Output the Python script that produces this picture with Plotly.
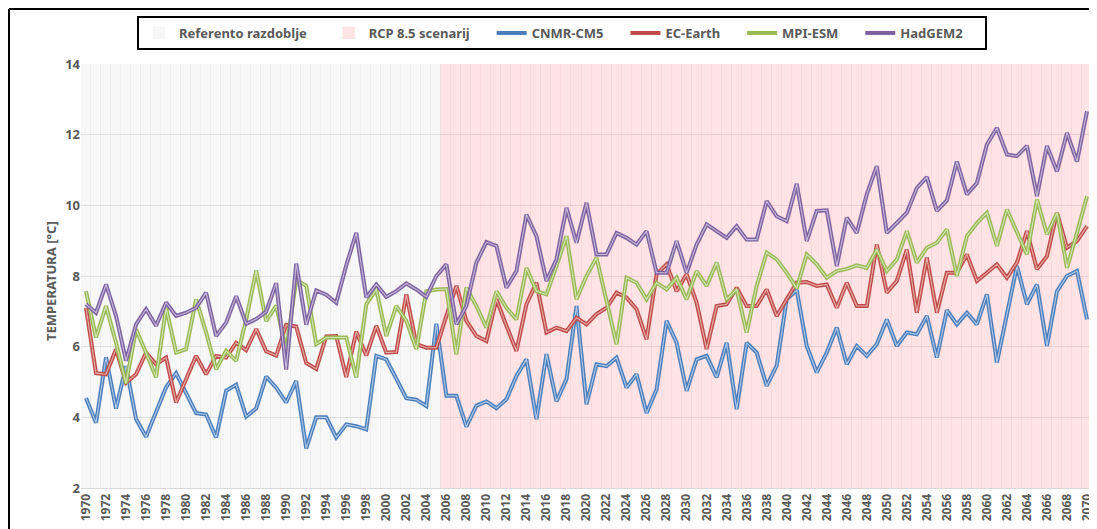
import plotly.graph_objects as go

years = list(range(1970, 2071))

cnmr_cm5 = [4.55, 3.85, 5.7, 4.25, 5.45, 3.95, 3.45, 4.15, 4.85, 5.25,
            4.7, 4.12, 4.08, 3.43, 4.75, 4.92, 4.02, 4.25, 5.15, 4.84,
            4.42, 5.03, 3.12, 4.0, 4.0, 3.43, 3.8, 3.75, 3.66, 5.74,
            5.64, 5.08, 4.54, 4.5, 4.32, 6.65, 4.61, 4.61, 3.74, 4.33,
            4.45, 4.26, 4.51, 5.17, 5.64, 3.95, 5.79, 4.45, 5.08, 7.15,
            4.37, 5.5, 5.45, 5.69, 4.84, 5.22, 4.12, 4.79, 6.73, 6.11,
            4.75, 5.64, 5.74, 5.13, 6.11, 4.23, 6.11, 5.83, 4.89, 5.46,
            7.34, 7.6, 6.02, 5.27, 5.83, 6.54, 5.5, 6.02, 5.74, 6.07,
            6.77, 6.02, 6.4, 6.35, 6.87, 5.69, 7.03, 6.63, 6.96, 6.63,
            7.48, 5.55, 6.96, 8.28, 7.2, 7.76, 6.02, 7.57, 8.0, 8.14,
            6.77]

ec_earth = [7.1, 5.25, 5.22, 5.93, 4.98, 5.22, 5.83, 5.5, 5.69, 4.42,
            5.08, 5.74, 5.22, 5.74, 5.69, 6.11, 5.9, 6.5, 5.87, 5.75,
            6.62, 6.57, 5.54, 5.37, 6.29, 6.3, 5.14, 6.43, 5.75, 6.59,
            5.83, 5.85, 7.48, 6.07, 5.97, 5.97, 6.87, 7.72, 6.73, 6.3,
            6.16, 7.34, 6.59, 5.88, 7.2, 7.81, 6.4, 6.54, 6.44, 6.82,
            6.63, 6.92, 7.1, 7.53, 7.39, 7.06, 6.21, 8.05, 8.33, 7.57,
            8.05, 7.25, 5.93, 7.15, 7.2, 7.67, 7.15, 7.15, 7.62, 6.87,
            7.34, 7.81, 7.83, 7.72, 7.76, 7.1, 7.81, 7.15, 7.15, 8.89,
            7.53, 7.86, 8.75, 6.96, 8.52, 6.96, 8.09, 8.09, 8.61, 7.86,
            8.09, 8.33, 7.95, 8.38, 9.27, 8.19, 8.56, 9.79, 8.8, 8.99,
            9.41]

mpi_esm = [7.57, 6.26, 7.15, 6.11, 4.96, 6.49, 5.83, 5.13, 7.1, 5.83,
           5.93, 7.34, 6.4, 5.36, 5.88, 5.6, 6.77, 8.15, 6.72, 7.16,
           5.9, 7.9, 7.72, 6.07, 6.26, 6.26, 6.26, 5.13, 7.2, 7.62,
           6.3, 7.15, 6.73, 5.93, 7.57, 7.62, 7.63, 5.78, 7.67, 7.15,
           6.54, 7.57, 7.1, 6.77, 8.23, 7.57, 7.48, 8.28, 9.13, 7.34,
           8.0, 8.52, 7.34, 6.07, 7.95, 7.81, 7.34, 7.81, 7.62, 7.95,
           7.34, 8.14, 7.72, 8.38, 7.34, 7.62, 6.4, 7.72, 8.66, 8.47,
           8.09, 7.65, 8.61, 8.33, 7.95, 8.14, 8.2, 8.3, 8.23, 8.75,
           8.14, 8.47, 9.27, 8.38, 8.8, 8.94, 9.32, 8.0, 9.13, 9.5,
           9.79, 8.85, 9.88, 9.22, 8.61, 10.16, 9.18, 9.79, 8.23, 9.22,
           10.26]

hadgem2 = [7.2, 6.96, 7.76, 6.87, 5.6, 6.63, 7.06, 6.59, 7.25, 6.87,
           6.96, 7.1, 7.53, 6.3, 6.68, 7.43, 6.65, 6.78, 6.99, 7.8,
           5.35, 8.35, 6.62, 7.59, 7.47, 7.24, 8.3, 9.22, 7.39, 7.76,
           7.41, 7.57, 7.79, 7.62, 7.41, 8.0, 8.33, 6.63, 7.15, 8.38,
           8.96, 8.85, 7.67, 8.14, 9.74, 9.13, 7.86, 8.47, 9.93, 8.94,
           10.07, 8.61, 8.61, 9.22, 9.08, 8.89, 9.27, 8.09, 8.09, 8.99,
           8.09, 8.89, 9.46, 9.27, 9.08, 9.41, 9.03, 9.03, 10.12, 9.69,
           9.55, 10.61, 8.99, 9.84, 9.86, 8.28, 9.65, 9.22, 10.31, 11.11,
           9.22, 9.5, 9.79, 10.49, 10.8, 9.84, 10.14, 11.24, 10.31, 10.63,
           11.72, 12.19, 11.44, 11.39, 11.68, 10.26, 11.68, 10.96, 12.05, 11.24,
           12.66]

ref_years = [y for y in years if y <= 2005]
rcp_years = [y for y in years if y >= 2006]
shade_top = 14

PAD = "\u00a0" * 5

fig = go.Figure()

fig.add_trace(go.Bar(
    x=ref_years, y=[shade_top] * len(ref_years), width=1,
    name="Referento razdoblje" + PAD,
    marker=dict(color="rgba(0,0,0,0.03)",
                line=dict(color="rgba(0,0,0,0.018)", width=1)),
    hoverinfo="skip"))
fig.add_trace(go.Bar(
    x=rcp_years, y=[shade_top] * len(rcp_years), width=1,
    name="RCP 8.5 scenarij" + PAD,
    marker=dict(color="rgba(255,0,20,0.11)",
                line=dict(color="rgba(180,60,80,0.035)", width=1)),
    hoverinfo="skip"))

series = [
    ("CNMR-CM5", cnmr_cm5, "#4a7ebb", "#b3cbea"),
    ("EC-Earth", ec_earth, "#be4b48", "#e9b0ae"),
    ("MPI-ESM", mpi_esm, "#98b954", "#d4e5b6"),
    ("HadGEM2", hadgem2, "#7d60a0", "#c8bbdb"),
]
for name, vals, c_out, c_in in series:
    fig.add_trace(go.Scatter(x=years, y=vals, mode="lines", name=name + PAD,
                             line=dict(color=c_out, width=4)))
    fig.add_trace(go.Scatter(x=years, y=vals, mode="lines", name=name,
                             showlegend=False, hoverinfo="skip",
                             line=dict(color=c_in, width=1.1)))

# the page body adds an 8px offset; layout numbers are in page pixels
OFF = 8
W, H = 1097 - OFF, 529 - OFF
L, R, T, B = 81 - OFF, 5, 64 - OFF, 41
pw, ph = W - L - R, H - T - B

def px_x(px):
    return (px - OFF - L) / pw

def px_y(py):
    return 1 - (py - OFF - T) / ph

font_family = "Noto Sans"
gray = "#595959"

frame = dict(color="black", width=2)

fig.update_layout(
    width=W, height=H,
    margin=dict(l=L, r=R, t=T, b=B, autoexpand=False),
    paper_bgcolor="white", plot_bgcolor="white",
    barmode="overlay", bargap=0,
    font=dict(family=font_family, color=gray),
    showlegend=True,
    legend=dict(orientation="h", x=px_x(562), xanchor="center",
                y=px_y(33), yanchor="middle",
                bordercolor="black", borderwidth=2,
                font=dict(size=13, color=gray, family=font_family, weight="bold"),
                itemwidth=30, tracegroupgap=0),
    xaxis=dict(range=[1969.5, 2070.5], tick0=1970, dtick=2,
               tickangle=-90, showgrid=False, zeroline=False,
               showline=True, linecolor="#d9d9d9", ticks="",
               tickfont=dict(size=12, color=gray, family=font_family, weight="bold")),
    yaxis=dict(range=[2, 14], dtick=2, showgrid=True, gridcolor="#e6e6e6",
               zeroline=False, showline=False, ticks="",
               tickfont=dict(size=13, color=gray, family=font_family, weight="bold")),
    annotations=[dict(text="TEMPERATURA [°C]", textangle=-90,
                      x=px_x(40), y=px_y(281), xref="paper", yref="paper",
                      showarrow=False,
                      font=dict(size=13, color=gray, family=font_family, weight="bold"))],
    shapes=[
        dict(type="line", xref="paper", yref="paper",
             x0=px_x(9), x1=px_x(9), y0=px_y(9), y1=px_y(560),
             line=frame, layer="above"),
        dict(type="line", xref="paper", yref="paper",
             x0=px_x(9), x1=px_x(1200), y0=px_y(9), y1=px_y(9),
             line=frame, layer="above"),
    ],
)

fig.write_html("out.html")
